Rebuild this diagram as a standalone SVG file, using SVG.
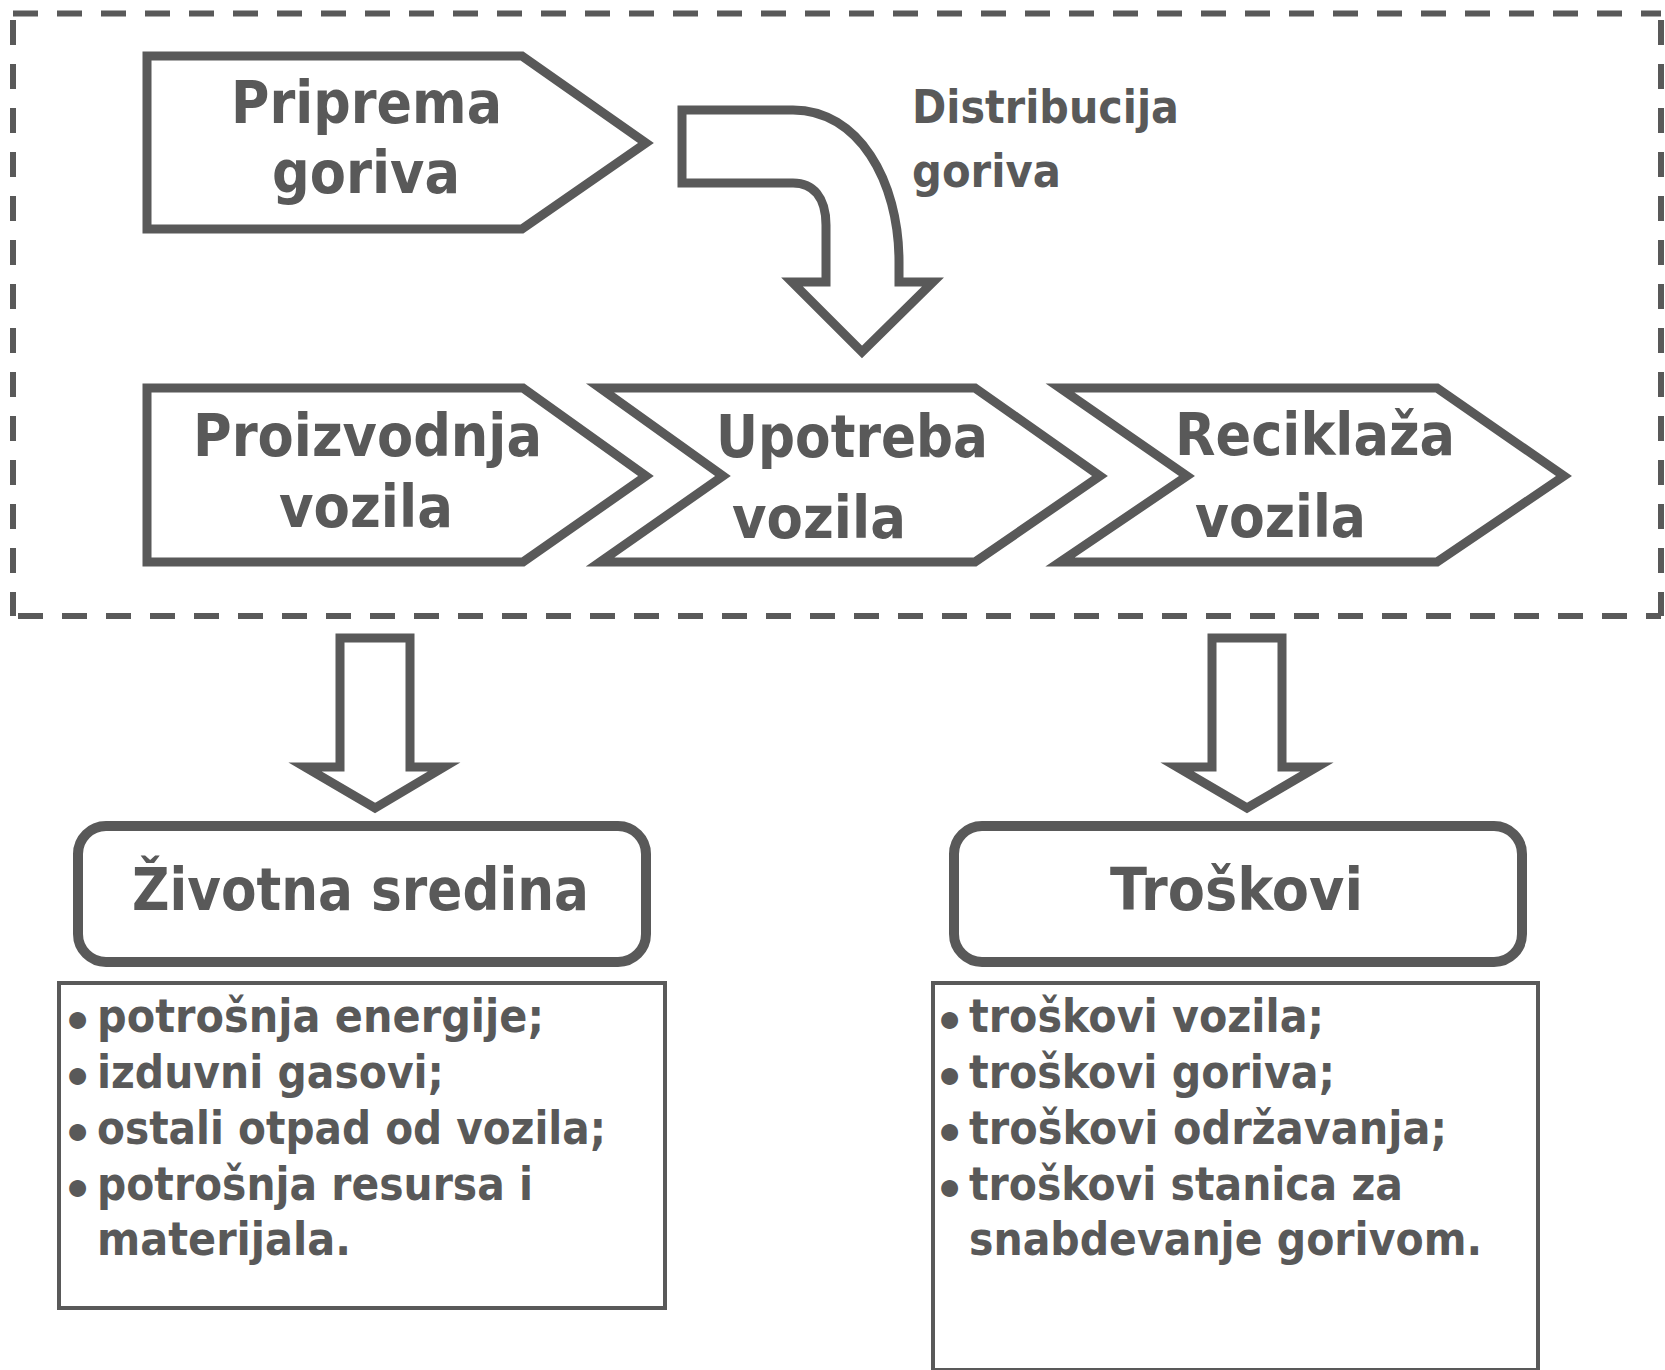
<svg xmlns="http://www.w3.org/2000/svg" width="1665" height="1370" viewBox="0 0 1665 1370">
<style>
.sh{fill:#fff;stroke:#595959;stroke-width:9;stroke-linejoin:miter;stroke-miterlimit:10}
.dash{fill:none;stroke:#595959;stroke-width:6;stroke-dasharray:25 19}
.t{font-family:"DejaVu Sans","Liberation Sans",sans-serif;font-weight:bold;fill:#595959}
.h{font-size:59px}
.d{font-size:47px}
.b{font-size:46px}
.bul{font-size:48px;text-anchor:middle}
.box{fill:#fff;stroke:#595959;stroke-width:4}
.rbox{fill:#fff;stroke:#595959;stroke-width:10}
</style>
<rect width="1665" height="1370" fill="#fff"/>
<g id="boundary">
<path class="dash" d="M13,13.5 H1661"/>
<path class="dash" d="M13,20 V616"/>
<path class="dash" d="M1661,20 V616"/>
<path class="dash" d="M18,616 H1661"/>
</g>
<g id="connectors">
<path id="distribucija-arrow" class="sh" d="M682,110 L793,110 C858,110 899,180 899,262 L899,282 L933,282 L862,352 L792,282 L826,282 L826,225 C826,197 813,183 793,183 L682,183 Z"/>
<path id="arrow-left" class="sh" d="M340,638 L410,638 L410,767 L444,767 L375,808 L305,767 L340,767 Z"/>
<path id="arrow-right" class="sh" d="M1212,638 L1282,638 L1282,767 L1317,767 L1247,808 L1177,767 L1212,767 Z"/>
<text class="t d" x="912" y="123" textLength="267" lengthAdjust="spacingAndGlyphs">Distribucija</text>
<text class="t d" x="912" y="187" textLength="149" lengthAdjust="spacingAndGlyphs">goriva</text>
</g>
<g id="priprema">
<path class="sh" d="M147,56 L522,56 L646,143 L522,229 L147,229 Z"/>
<text class="t h" x="231" y="123" textLength="271" lengthAdjust="spacingAndGlyphs">Priprema</text>
<text class="t h" x="272" y="193" textLength="188" lengthAdjust="spacingAndGlyphs">goriva</text>
</g>
<g id="proizvodnja">
<path class="sh" d="M147,388 L523,388 L646,476 L523,562 L147,562 Z"/>
<text class="t h" x="193" y="456" textLength="349" lengthAdjust="spacingAndGlyphs">Proizvodnja</text>
<text class="t h" x="279" y="527" textLength="174" lengthAdjust="spacingAndGlyphs">vozila</text>
</g>
<g id="upotreba">
<path class="sh" d="M600,388 L975,388 L1100,476 L975,562 L600,562 L723,476 Z"/>
<text class="t h" x="716" y="457" textLength="272" lengthAdjust="spacingAndGlyphs">Upotreba</text>
<text class="t h" x="732" y="538" textLength="174" lengthAdjust="spacingAndGlyphs">vozila</text>
</g>
<g id="reciklaza">
<path class="sh" d="M1060,388 L1437,388 L1564,476 L1437,562 L1060,562 L1187,476 Z"/>
<text class="t h" x="1175" y="455" textLength="280" lengthAdjust="spacingAndGlyphs">Reciklaža</text>
<text class="t h" x="1195" y="537" textLength="171" lengthAdjust="spacingAndGlyphs">vozila</text>
</g>
<g id="zivotna-sredina">
<rect class="rbox" x="78" y="826" width="568" height="136" rx="28" ry="28"/>
<text class="t h" x="132" y="910" textLength="457" lengthAdjust="spacingAndGlyphs">Životna sredina</text>
</g>
<g id="troskovi">
<rect class="rbox" x="954" y="826" width="568" height="136" rx="28" ry="28"/>
<text class="t h" x="1110" y="910" textLength="253" lengthAdjust="spacingAndGlyphs">Troškovi</text>
</g>
<g id="zivotna-list">
<rect class="box" x="59" y="983" width="606" height="325"/>
<text class="t bul" x="77.5" y="1038">•</text>
<text class="t bul" x="77.5" y="1094">•</text>
<text class="t bul" x="77.5" y="1150">•</text>
<text class="t bul" x="77.5" y="1206">•</text>
<text class="t b" x="97" y="1032" textLength="447" lengthAdjust="spacingAndGlyphs">potrošnja energije;</text>
<text class="t b" x="97" y="1088" textLength="347" lengthAdjust="spacingAndGlyphs">izduvni gasovi;</text>
<text class="t b" x="97" y="1144" textLength="509" lengthAdjust="spacingAndGlyphs">ostali otpad od vozila;</text>
<text class="t b" x="97" y="1200" textLength="436" lengthAdjust="spacingAndGlyphs">potrošnja resursa i</text>
<text class="t b" x="97" y="1255" textLength="254" lengthAdjust="spacingAndGlyphs">materijala.</text>
</g>
<g id="troskovi-list">
<rect class="box" x="933" y="983" width="605" height="387"/>
<text class="t bul" x="949.5" y="1038">•</text>
<text class="t bul" x="949.5" y="1094">•</text>
<text class="t bul" x="949.5" y="1150">•</text>
<text class="t bul" x="949.5" y="1206">•</text>
<text class="t b" x="969" y="1032" textLength="355" lengthAdjust="spacingAndGlyphs">troškovi vozila;</text>
<text class="t b" x="969" y="1088" textLength="366" lengthAdjust="spacingAndGlyphs">troškovi goriva;</text>
<text class="t b" x="969" y="1144" textLength="478" lengthAdjust="spacingAndGlyphs">troškovi održavanja;</text>
<text class="t b" x="969" y="1200" textLength="434" lengthAdjust="spacingAndGlyphs">troškovi stanica za</text>
<text class="t b" x="969" y="1255" textLength="513" lengthAdjust="spacingAndGlyphs">snabdevanje gorivom.</text>
</g>
</svg>
